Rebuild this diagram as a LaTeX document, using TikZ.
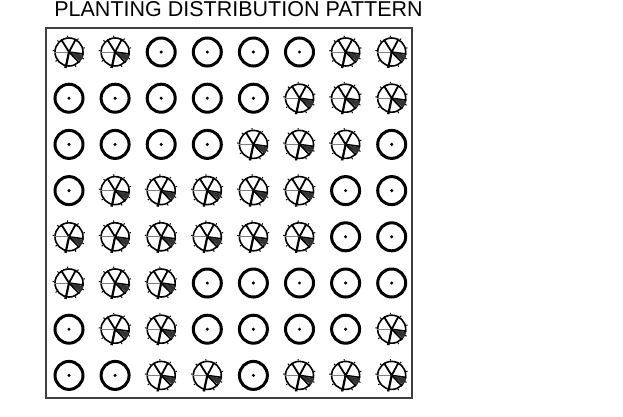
\documentclass[tikz,border=0pt]{standalone}
\usepackage{fontspec}
\setmainfont{Liberation Sans}
\usetikzlibrary{positioning}

\begin{document}
\begin{tikzpicture}[x=1pt, y=-1pt,
    dotplant/.style={circle, draw, line width=3pt, minimum size=28pt, inner sep=0pt},
    starplant/.style={circle, draw, line width=1.6pt, minimum size=28pt, inner sep=0pt}]
    \useasboundingbox (0,0) rectangle (623,416);

    % Titolo
    \node[anchor=base, font=\fontsize{21.5}{21.5}\selectfont] (title) at (238.5,16) {PLANTING DISTRIBUTION PATTERN};

    % Cornice
    \draw[line width=1.1pt, black!75] (46,28) rectangle (412,398);

    % Schema di impianto (1 = stella, 0 = cerchio con punto)
    \foreach \row [count=\r] in {{1,1,0,0,0,0,1,1},{0,0,0,0,0,1,1,1},{0,0,0,0,1,1,1,0},{0,1,1,1,1,1,0,0},
                                 {1,1,1,1,1,1,0,0},{1,1,1,0,0,0,0,0},{0,1,1,0,0,0,0,1},{0,0,1,1,0,1,1,1}} {
        \foreach \t [count=\c] in \row {
            \ifnum\t=1
                \node[starplant] (p\r-\c) at ({69+(\c-1)*46.1}, {52+(\r-1)*46.2}) {};
                \foreach \a in {15,55,...,355} \draw[line width=1pt] (p\r-\c.\a) -- ++(\a:1.6pt);
                \draw[line width=1.8pt] (p\r-\c.62) -- (p\r-\c.center) -- (p\r-\c.122);
                \draw[line width=0.7pt, gray] (p\r-\c.center) -- (p\r-\c.180);
                \draw[line width=2.2pt] (p\r-\c.center) -- (p\r-\c.258) -- ++(258:1.5pt);
                \draw[line width=1.6pt] (p\r-\c.center) -- (p\r-\c.-8);
                \fill[black!80] (p\r-\c.center) -- (p\r-\c.-12) -- (p\r-\c.-40) -- cycle;
                \draw[line width=1.6pt] (p\r-\c.center) -- (p\r-\c.-46);
            \else
                \node[dotplant] (p\r-\c) at ({69+(\c-1)*46.1}, {52+(\r-1)*46.2}) {};
                \fill (p\r-\c.center) circle (1.7pt);
            \fi
        }
    }
\end{tikzpicture}
\end{document}
